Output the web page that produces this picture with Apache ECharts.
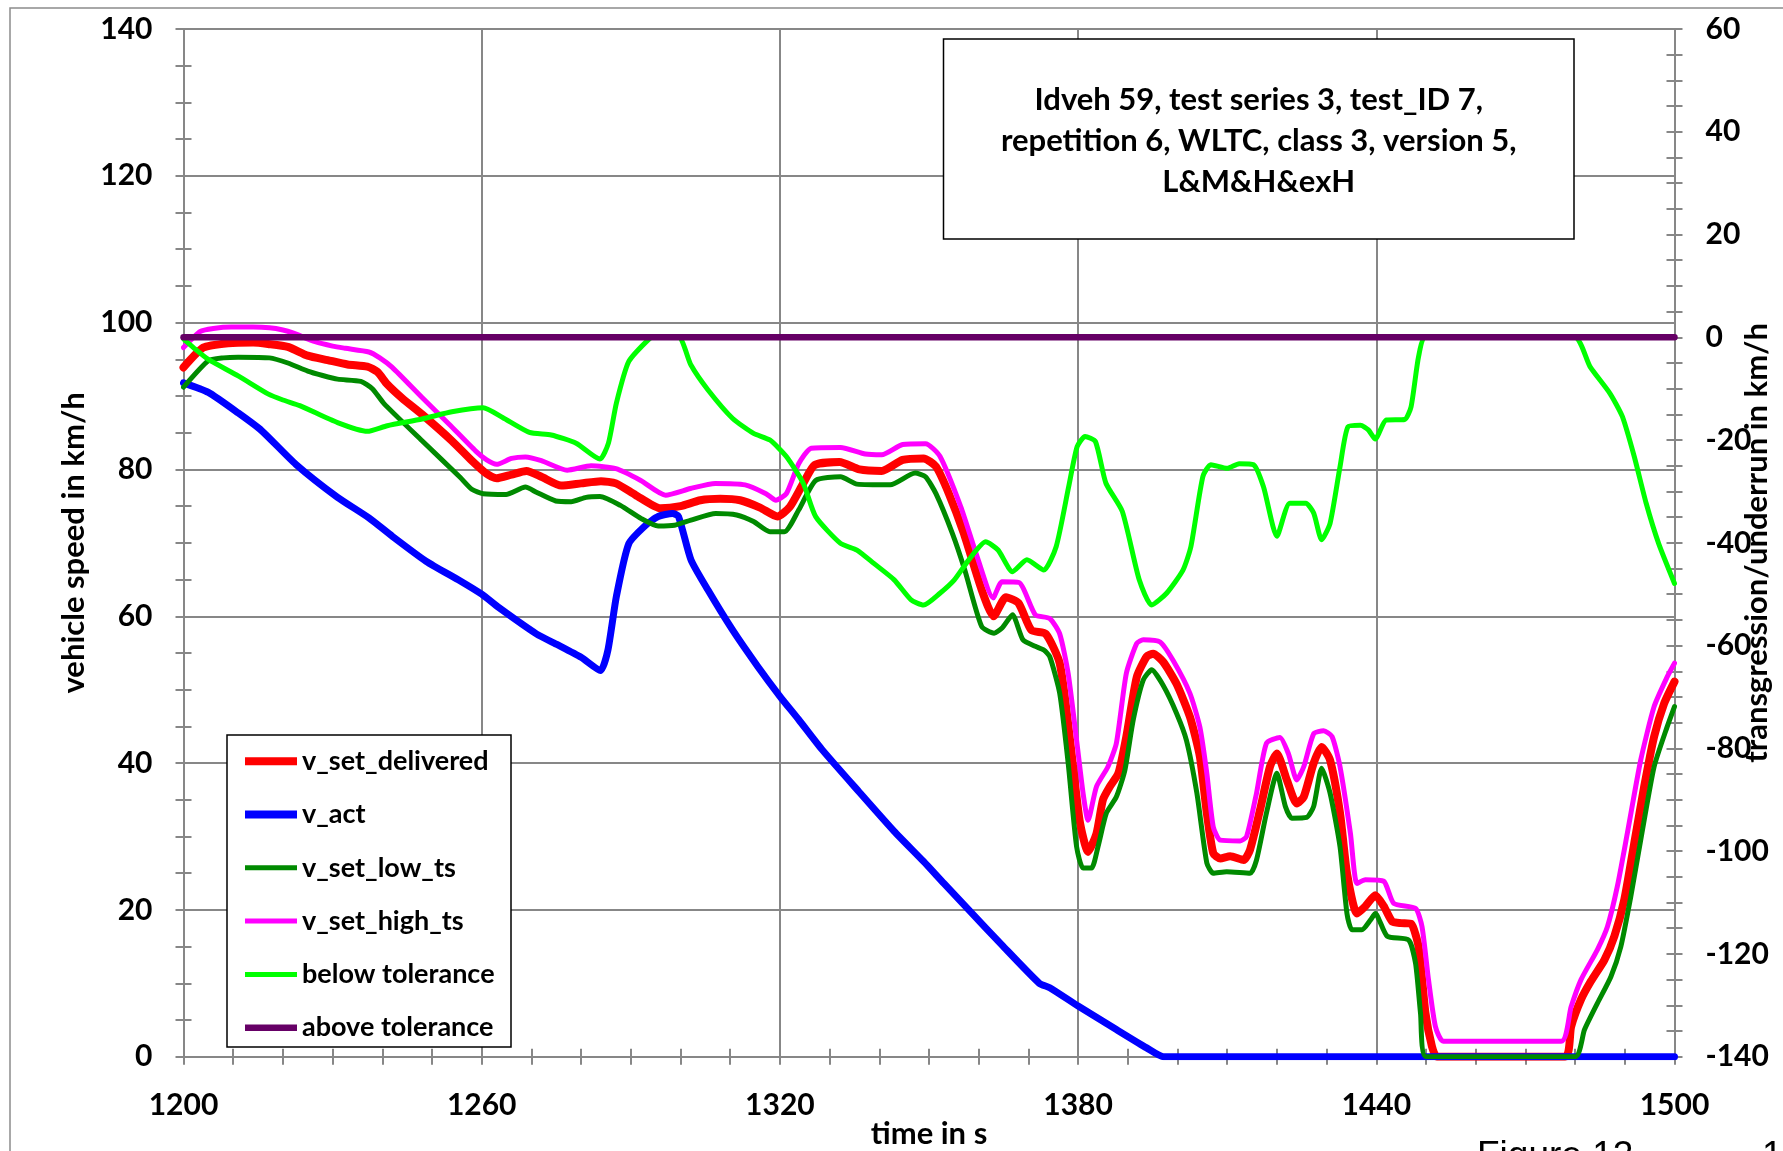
<!DOCTYPE html>
<html><head><meta charset="utf-8">
<script src="https://cdn.jsdelivr.net/npm/echarts@6/dist/echarts.min.js"></script>
<style>html,body{margin:0;padding:0;background:#fff}#c{width:1783px;height:1151px}</style>
</head><body><div id="c"></div>
<script>
// ---------- data (time in s, value) ----------
const seriesNames = ['v_set_delivered','v_act','v_set_low_ts','v_set_high_ts','below tolerance','above tolerance'];
const xTitle = 'time in s';
const yLeftTitle = 'vehicle speed in km/h';
const yRightTitle = 'transgression/underrun in km/h';
const noteText = ['Idveh 59, test series 3, test_ID 7,','repetition 6, WLTC, class 3, version 5,','L&M&H&exH'];

const vSetDelivered = [[1200,93.9],[1204,96.6],[1209,97.2],[1214,97.3],[1217,97.1],[1221,96.7],[1225,95.5],[1229,94.9],[1233,94.3],[1237,94.0],[1239,93.3],[1241,91.6],[1244,89.7],[1248,87.5],[1254,83.9],[1258,81.2],[1261,79.4],[1263,78.8],[1266,79.3],[1269,79.8],[1272,79.0],[1276,77.8],[1280,78.1],[1284,78.4],[1287,78.1],[1291,76.5],[1296,74.7],[1300,75.0],[1304,75.8],[1308,76.0],[1312,75.8],[1316,74.8],[1319.5,73.6],[1322,74.9],[1324.7,78.1],[1327,80.6],[1332,81.0],[1336,80.0],[1340.5,79.8],[1344.7,81.3],[1348.9,81.5],[1351.4,80.4],[1354,76.7],[1357,71.3],[1360.6,63.6],[1363,60.0],[1365.5,62.6],[1368,61.8],[1370.6,58.1],[1373.5,57.6],[1376.3,53.6],[1378.3,43.6],[1380.3,32.2],[1382,27.9],[1383.7,30.4],[1385,35],[1386.4,36.8],[1388.1,38.6],[1389.7,43.6],[1391.8,51.7],[1393.8,54.5],[1395.1,54.9],[1397.1,53.8],[1399.8,50.8],[1402.5,46.3],[1404.5,40.9],[1405.9,33.2],[1407.2,27.7],[1408.6,27],[1410.6,27.3],[1413.3,26.8],[1414.6,28.2],[1416.6,33.6],[1418.6,39.5],[1420,41.3],[1422,37.7],[1424,34.5],[1425.4,35.4],[1427.4,40],[1429,42.2],[1430.7,40.4],[1432.7,33.2],[1434.1,25],[1436.1,19.5],[1437.8,20.5],[1439.8,22],[1441.5,20.5],[1443.2,18.4],[1445,18.2],[1447,18.1],[1448.5,15],[1449.9,5.9],[1451.2,1.4],[1452.2,0],[1478,0],[1479.2,4.1],[1481.2,7.8],[1483.2,10.3],[1485.9,13.2],[1487.9,16.4],[1489.9,21.4],[1491.9,29.1],[1493.9,36.8],[1495.9,43.6],[1497.9,48.1],[1500,51.1]];

const vAct = [[1200,91.8],[1205,90.5],[1211,87.7],[1215.7,85.3],[1222.6,80.7],[1231,76.2],[1237.3,73.4],[1242,70.9],[1248.8,67.5],[1255.7,64.8],[1260,63.0],[1263.4,61.2],[1271,57.6],[1275,56.2],[1280,54.4],[1283.9,52.6],[1285.4,55.4],[1287.1,62.7],[1289.6,69.9],[1293,72.4],[1295.5,73.6],[1298.4,74.0],[1299.6,73.6],[1302.1,67.7],[1305.5,63.6],[1310.5,58.1],[1315.5,53.2],[1320,49.1],[1323.8,45.9],[1328.4,41.9],[1335.9,36.1],[1343,30.7],[1348.9,26.6],[1353,23.6],[1358,20],[1364.7,15.2],[1372.2,10],[1374.3,9.4],[1380,6.9],[1387.7,3.7],[1393.8,1.2],[1397.2,0],[1500,0]];

const vSetLowTs = [[1200,91.2],[1205,94.8],[1208,95.2],[1211,95.3],[1217.3,95.2],[1221,94.5],[1225,93.4],[1228,92.8],[1231,92.3],[1235.7,92.0],[1238,91.0],[1240.3,89.0],[1248,83.9],[1255.7,78.9],[1258,77.3],[1260.3,76.7],[1264.9,76.6],[1268.8,77.6],[1271,76.9],[1274.9,75.7],[1278,75.6],[1281,76.2],[1283.8,76.3],[1287.9,75.1],[1292.1,73.3],[1295.5,72.3],[1298.8,72.4],[1302.1,73.1],[1307.1,74.0],[1311.3,73.8],[1314.7,72.9],[1318,71.5],[1320.9,71.5],[1323.8,74.5],[1327.2,78.5],[1332.2,79.0],[1335.5,78.0],[1342.2,77.9],[1347.2,79.5],[1349.3,79.0],[1351.4,76.7],[1354.7,71.3],[1357.2,66.3],[1360.6,58.6],[1363.1,57.7],[1364.7,58.4],[1366.8,60.2],[1368.9,56.8],[1371.4,55.9],[1373.1,55.4],[1374.3,54.5],[1376.3,49.5],[1378,40],[1379.7,28.6],[1381,25.7],[1382.7,25.7],[1384,28.6],[1385.7,33.2],[1387.7,35.4],[1389.4,39],[1391.1,45.9],[1393.1,51.3],[1394.8,52.7],[1397.1,50.6],[1399.8,46.8],[1401.8,43.1],[1403.9,35.9],[1405.9,26.4],[1407.2,25],[1409.9,25.2],[1414.6,25],[1415.9,26.8],[1417.9,33.2],[1420,38.6],[1421.7,34.1],[1423,32.5],[1426,32.6],[1427.4,34.1],[1429,39.3],[1430.7,35.9],[1432.7,28.6],[1434.1,19.5],[1435.1,17.3],[1437.1,17.3],[1438.8,18.6],[1439.8,19.5],[1442.2,16.4],[1446.5,15.9],[1447.9,12.7],[1448.9,5.9],[1450,0],[1480,0],[1481.9,3.7],[1484.5,7.3],[1487.2,10.9],[1489.2,15],[1491.2,21.8],[1493.2,29.5],[1495.9,39.5],[1498.5,44.9],[1500,47.7]];

const vSetHighTs = [[1200,96.6],[1203.4,98.8],[1206,99.2],[1209.6,99.4],[1214,99.4],[1217.3,99.3],[1220,99.0],[1222,98.6],[1226.5,97.4],[1230,96.8],[1232.6,96.5],[1237.3,96.0],[1239.5,95.2],[1242,93.9],[1248,89.8],[1253.4,86.2],[1258.8,82.5],[1261,81.3],[1263,80.7],[1266,81.5],[1268.8,81.7],[1272,81.2],[1277.2,79.9],[1282,80.5],[1287,80.1],[1292,78.5],[1297,76.5],[1302,77.4],[1307,78.1],[1313,77.9],[1317.2,76.7],[1319.2,75.8],[1321.3,76.7],[1323.8,80.8],[1326.3,82.9],[1332.2,83.0],[1337.2,82.1],[1340.5,82.0],[1344.7,83.4],[1349.3,83.5],[1352.2,81.8],[1356.4,74.9],[1359.7,68.1],[1362.9,62.5],[1364.7,64.7],[1368.1,64.6],[1371.4,60.2],[1374.3,59.7],[1376.3,57.6],[1378,52.2],[1379.7,43.1],[1381,35.9],[1382,32.2],[1383.7,36.8],[1386,39.5],[1387.7,42.7],[1389.7,52.2],[1391.8,56.3],[1393.1,56.8],[1396.5,56.5],[1399.1,54],[1402.5,49.5],[1404.5,44.9],[1405.9,38.6],[1407.2,31.3],[1408.6,29.5],[1412.6,29.4],[1413.9,30],[1415.9,35.9],[1417.9,42.7],[1420.6,43.5],[1422.3,41.3],[1424,37.7],[1425.4,39.5],[1427.4,44],[1429.4,44.4],[1431.1,43.6],[1432.7,39.5],[1434.8,30.4],[1436.1,23.6],[1437.8,24.1],[1441.5,23.9],[1443.5,20.9],[1447.9,20.2],[1449.2,17.7],[1450.5,10.5],[1451.9,4.1],[1453.5,2.1],[1477.2,2.1],[1479.2,6.8],[1481.2,10.5],[1484.5,14.6],[1486.5,17.7],[1488.5,23.2],[1490.5,30.4],[1493.2,40.4],[1495.9,47.7],[1498.5,51.7],[1500,53.6]];

const belowTolerance = [[1200,-0.3],[1202,-2],[1205,-4.3],[1211,-7.5],[1217,-11],[1220,-12.2],[1223.4,-13.3],[1231,-16.6],[1237,-18.3],[1241,-17.2],[1248,-15.9],[1254,-14.5],[1260.3,-13.7],[1264.2,-15.6],[1269.6,-18.5],[1274,-19],[1279,-20.6],[1283.8,-23.7],[1285.5,-20.6],[1287.1,-12.8],[1289.6,-4.7],[1293.8,-0.2],[1294.6,0],[1299.6,0],[1302.1,-5.4],[1305.5,-10.2],[1310.5,-15.8],[1314.7,-18.7],[1318,-20],[1321.3,-23.2],[1324.7,-28.4],[1327.2,-34.9],[1332.2,-40.1],[1335.5,-41.4],[1338.9,-44],[1343,-47.2],[1346.4,-51.1],[1348.9,-52.1],[1352.2,-49.8],[1355.1,-47.2],[1358,-43.3],[1361.4,-39.8],[1363.9,-41.4],[1366.8,-45.6],[1369.7,-43.3],[1373.1,-45.3],[1375.6,-40.7],[1378.1,-29.1],[1379.8,-21.3],[1381.4,-19.3],[1383.5,-20.3],[1385.6,-28.4],[1388.9,-33.9],[1392.3,-47.2],[1394.8,-52.1],[1397.8,-49.8],[1401.1,-45.3],[1402.7,-40.7],[1405.1,-27.1],[1406.7,-24.8],[1410,-25.5],[1412.4,-24.6],[1415.3,-24.8],[1417.3,-29.1],[1420,-38.7],[1422.6,-32.3],[1425.8,-32.3],[1427.4,-34.2],[1429,-39.4],[1430.7,-36.2],[1432.7,-25.2],[1434.3,-17.4],[1436.8,-17.1],[1438.4,-18],[1439.8,-19.8],[1442,-16.1],[1445.7,-16],[1447,-13.5],[1448.5,-3.8],[1449.9,0],[1479.9,0],[1483,-5.7],[1487,-10.9],[1489.5,-15.4],[1491.9,-23.2],[1494.3,-32.3],[1496.8,-40.1],[1500,-47.9]];

const aboveTolerance = [[1200,0],[1500,0]];

// ---------- chart ----------
const FONT = 'Lato';
const GRIDC = '#878787';
const L = 183.5, T = 29, R = 1674.5, B = 1056.7;
const tickLine = {color:GRIDC, width:2};
const nameStyle = {fontSize:31, fontWeight:'bold', fontFamily:FONT, color:'#000'};
function labelStyle(m){ return {margin:m, fontSize:30, fontWeight:'bold', fontFamily:FONT, color:'#000', formatter:function(v){return String(v);}}; }

function xAx(inside){
  return {type:'value', min:1200, max:1500, interval:60, position:'bottom', offset:0,
    name: inside ? '' : xTitle, nameLocation:'middle', nameGap:62, nameMoveOverlap:false, nameTextStyle:nameStyle,
    axisLine:{show:!inside, onZero:false, lineStyle:{color:GRIDC, width:2}},
    axisTick:{show:true, inside:inside, length:8, lineStyle:tickLine},
    minorTick:{show:true, splitNumber:6, length:8, lineStyle:tickLine},
    splitLine:{show:!inside, lineStyle:{color:GRIDC, width:2}},
    axisLabel: inside ? {show:false} : labelStyle(34)};
}
function yAx(side, inside){
  const left = side==='left';
  return {type:'value', position:side, offset:0,
    min: left?0:-140, max: left?140:60, interval:20,
    name: inside ? '' : (left?yLeftTitle:yRightTitle), nameLocation:'middle', nameRotate:90,
    nameGap: left?94:67, nameMoveOverlap:false, nameTextStyle:nameStyle,
    axisLine:{show:!inside, onZero:false, lineStyle:{color:GRIDC, width:2}},
    axisTick:{show:true, inside:inside, length:8, lineStyle:tickLine},
    minorTick:{show:true, splitNumber:4, length:8, lineStyle:tickLine},
    splitLine:{show:left && !inside, lineStyle:{color:GRIDC, width:2}},
    axisLabel: inside ? {show:false} : labelStyle(31)};
}
function ln(name, data, color, width, yi){
  return {name:name, type:'line', data:data, xAxisIndex:0, yAxisIndex:yi,
    symbol:'none', showSymbol:false, smooth:0.2, clip:true,
    lineStyle:{color:color, width:width, cap:'round', join:'round'},
    itemStyle:{color:color}, emphasis:{disabled:true}};
}
// legend icon: a horizontal bar of given thickness inside a 52x14 box
function barIcon(t){
  const a = (14 - t) / 2, b = a + t;
  return 'path://M0,0L52,0L52,0.01Z M0,' + a + 'L52,' + a + 'L52,' + b + 'L0,' + b + 'Z M0,14L52,14L52,13.99Z';
}
const legendThick = [8, 8, 5, 5, 5, 6.5];

const chart = echarts.init(document.getElementById('c'), null, {renderer:'canvas'});
chart.setOption({
  animation:false,
  backgroundColor:'#fff',
  grid:{left:L, top:T, width:R-L, height:B-T, containLabel:false, outerBoundsMode:'none'},
  xAxis:[xAx(false), xAx(true)],
  yAxis:[yAx('left',false), yAx('left',true), yAx('right',false), yAx('right',true)],
  legend:{data:seriesNames.map(function(n,i){return {name:n, icon:barIcon(legendThick[i])};}),
    orient:'vertical', left:245, top:747.7, padding:0,
    itemWidth:52, itemHeight:14, itemGap:26.3, z:10, selectedMode:false,
    textStyle:{fontSize:27, fontWeight:'bold', fontFamily:FONT, color:'#000', lineHeight:26}},
  series:[
    ln(seriesNames[0], vSetDelivered, '#ff0000', 8, 0),
    ln(seriesNames[1], vAct, '#0000ff', 7, 0),
    ln(seriesNames[2], vSetLowTs, '#008a00', 5, 0),
    ln(seriesNames[3], vSetHighTs, '#ff00ff', 5, 0),
    ln(seriesNames[4], belowTolerance, '#00ff00', 5, 2),
    ln(seriesNames[5], aboveTolerance, '#660066', 6.5, 2)
  ],
  graphic:[
    {type:'rect', shape:{x:10, y:8, width:1800, height:1200}, style:{fill:null, stroke:'#8c8c8c', lineWidth:1.5}, z:1, silent:true},
    {type:'rect', shape:{x:227, y:735, width:284, height:312}, style:{fill:'#fff', stroke:'#000', lineWidth:1.5}, z:5, silent:true},
    {type:'rect', shape:{x:943.5, y:39, width:630.5, height:200}, style:{fill:'#fff', stroke:'#000', lineWidth:1.5}, z:5, silent:true},
    {type:'text', x:1258.75, y:141, z:6, silent:true,
      style:{text:noteText.join('\n'), align:'center', verticalAlign:'middle', lineHeight:41,
        fontSize:31, fontWeight:'bold', fontFamily:FONT, fill:'#000'}},
    {type:'text', x:1477, y:1138, z:6, silent:true,
      style:{text:'Figure 12', fontSize:37, fontFamily:'Liberation Sans', fill:'#000'}},
    {type:'text', x:1762, y:1138, z:6, silent:true,
      style:{text:'17', fontSize:37, fontFamily:'Liberation Sans', fill:'#000'}}
  ]
});
</script></body></html>
